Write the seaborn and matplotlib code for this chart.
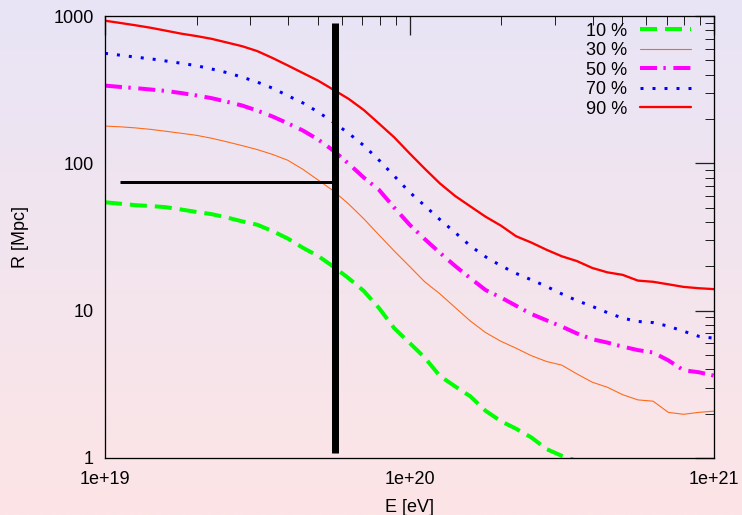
import numpy as np
import pandas as pd
import matplotlib
matplotlib.use("Agg")
import matplotlib.pyplot as plt
import seaborn as sns
from matplotlib.colors import LinearSegmentedColormap
from matplotlib.ticker import FixedLocator, FixedFormatter, LogLocator, NullFormatter

# ---------------- data ----------------
logE = [19.00, 19.05, 19.10, 19.15, 19.20, 19.25, 19.30, 19.35, 19.40, 19.45,
        19.50, 19.55, 19.60, 19.65, 19.70, 19.75, 19.80, 19.85, 19.90, 19.95,
        20.00, 20.05, 20.10, 20.15, 20.20, 20.25, 20.30, 20.35, 20.40, 20.45,
        20.50, 20.55, 20.60, 20.65, 20.70, 20.75, 20.80, 20.85, 20.90, 20.95, 21.00]

r10 = [54.4, 53.2, 52.0, 51.3, 50.4, 48.6, 46.8, 45.2, 42.9, 40.4,
       38.3, 34.7, 30.9, 26.7, 23.5, 19.9, 16.6, 13.6, 10.4, 7.6,
       6.05, 4.8, 3.6, 3.06, 2.62, 2.09, 1.78, 1.58, 1.38, 1.15,
       1.035, 0.955, np.nan, np.nan, np.nan, np.nan, np.nan, np.nan, np.nan, np.nan, np.nan]

r30 = [179, 177, 174, 170, 165, 160, 155, 148, 140, 132,
       124, 115, 105, 91, 77, 65, 53, 42, 32.6, 25.4,
       20.0, 15.7, 13.0, 10.5, 8.5, 7.1, 6.2, 5.56, 4.95, 4.52,
       4.27, 3.72, 3.27, 3.02, 2.69, 2.48, 2.43, 2.04, 1.98, 2.04, 2.08]

r50 = [337, 330, 324, 317, 310, 300, 289, 277, 262, 247,
       228, 208, 187, 167, 145, 122, 99.5, 80, 66, 50,
       38.4, 30.6, 24.7, 20.1, 16.6, 13.8, 12.3, 10.8, 9.5, 8.6,
       7.8, 7.0, 6.4, 6.07, 5.7, 5.4, 5.2, 4.6, 3.94, 3.82, 3.62]

r70 = [558, 542, 526, 512, 495, 478, 460, 437, 413, 385,
       356, 324, 288, 257, 223, 190, 160, 132, 105, 82,
       63.8, 51.6, 41.5, 33.9, 27.5, 23.2, 20.2, 17.9, 16.2, 14.6,
       13.0, 11.7, 10.7, 9.7, 8.9, 8.45, 8.3, 7.85, 7.25, 6.7, 6.5]

r90 = [929, 897, 865, 832, 795, 759, 731, 700, 661, 624,
       578, 519, 462, 410, 364, 316, 274, 230, 186, 150,
       117, 92, 73, 60, 51, 43.4, 37.8, 32, 29, 25.9,
       23.4, 21.7, 19.5, 18.2, 17.5, 16.0, 15.7, 15.1, 14.5, 14.2, 14.0]

series_labels = ["10 %", "30 %", "50 %", "70 %", "90 %"]

# black marker lines (cut energy and distance)
E_cut = 5.7e19
R_cut_low, R_cut_high = 1.08, 900
E_h_start = 1.12e19
R_h = 75

xtick_vals = [1e19, 1e20, 1e21]
xtick_labels = ["1e+19", "1e+20", "1e+21"]
ytick_vals = [1, 10, 100, 1000]
ytick_labels = ["1", "10", "100", "1000"]

# ---------------- styling ----------------
E = 10.0 ** np.array(logE)
FONT = ["Liberation Sans", "DejaVu Sans"]
sns.set_theme(style="white")
plt.rcParams["font.family"] = FONT
plt.rcParams["text.color"] = "black"
plt.rcParams["axes.labelcolor"] = "black"
FS = 13

W, H = 742, 515
fig = plt.figure(figsize=(W / 100, H / 100), dpi=100)

# gradient background
bg = fig.add_axes([0, 0, 1, 1], zorder=-10)
cmap = LinearSegmentedColormap.from_list("bg", ["#e8e5f6", "#fde4e6"])
bg.imshow(np.linspace(0, 1, 256).reshape(-1, 1), aspect="auto", cmap=cmap,
          extent=[0, 1, 0, 1])
bg.set_axis_off()

ax = fig.add_axes([105 / W, 1 - 458 / H, (714 - 105) / W, (458 - 16) / H])
ax.set_facecolor("none")

px = 0.72  # one pixel in points
styles = [
    dict(color="#00ff00", lw=4 * px, ls=(0, (4.25, 2.0))),
    dict(color="#ff6a1a", lw=1.1 * px, ls="-"),
    dict(color="#ff00ff", lw=4 * px, ls=(0, (4.25, 1.6, 0.6, 1.9))),
    dict(color="#0000ff", lw=3 * px, ls=(0, (1.0, 3.0))),
    dict(color="#ff0000", lw=2.3 * px, ls="-"),
]
data = [r10, r30, r50, r70, r90]

for lab, vals, st in zip(series_labels, data, styles):
    df = pd.DataFrame({"E": E, "R": vals}).dropna()
    sns.lineplot(data=df, x="E", y="R", ax=ax, color=st["color"],
                 linewidth=st["lw"], linestyle=st["ls"], label=lab,
                 sort=True, estimator=None)

ax.vlines(E_cut, R_cut_low, R_cut_high, color="black", lw=7 * px, zorder=5)
ax.hlines(R_h, E_h_start, E_cut, color="black", lw=3 * px, zorder=5)

ax.set_xscale("log")
ax.set_yscale("log")
ax.set_xlim(1e19, 1e21)
ax.set_ylim(1, 1000)

ax.xaxis.set_major_locator(FixedLocator(xtick_vals))
ax.xaxis.set_major_formatter(FixedFormatter(xtick_labels))
ax.yaxis.set_major_locator(FixedLocator(ytick_vals))
ax.yaxis.set_major_formatter(FixedFormatter(ytick_labels))
ax.xaxis.set_minor_locator(LogLocator(base=10, subs=np.arange(2, 10)))
ax.yaxis.set_minor_locator(LogLocator(base=10, subs=np.arange(2, 10)))
ax.xaxis.set_minor_formatter(NullFormatter())
ax.yaxis.set_minor_formatter(NullFormatter())

ax.tick_params(which="both", direction="in", top=True, right=True,
               color="#222222", labelsize=FS, labelcolor="black")
ax.tick_params(which="major", length=19 * px, width=1.3 * px)
ax.tick_params(which="minor", length=9 * px, width=1.0 * px)
ax.tick_params(axis="y", which="major", pad=11 * px)
ax.tick_params(axis="x", which="major", pad=13 * px)

for sp in ax.spines.values():
    sp.set_color("black")
    sp.set_linewidth(1.3 * px)
    sp.set_visible(True)

ax.set_xlabel("E [eV]", fontsize=FS, labelpad=8)
ax.set_ylabel("R [Mpc]", fontsize=FS, labelpad=18)

leg = ax.legend(loc="upper right", bbox_to_anchor=((691 - 105) / 609, 0.985),
                frameon=False, markerfirst=False, fontsize=FS,
                handlelength=2.85, handletextpad=0.7, labelspacing=0.14,
                borderpad=0, borderaxespad=0)

fig.savefig("out.png", dpi=100)
